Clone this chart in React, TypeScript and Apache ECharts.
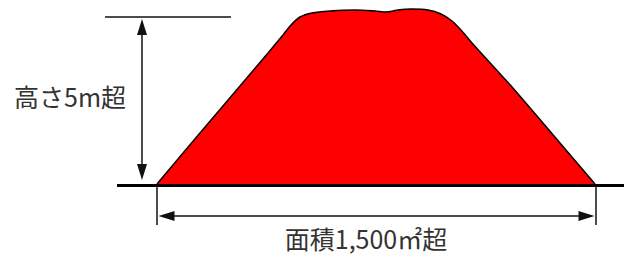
import React, { useEffect, useRef } from "react";
import * as echarts from "echarts";

// Outline of the heap (x, y in diagram units; y grows downward)
const outline: [number, number][] = [
  [157, 184], [200, 133], [240, 86], [268, 53], [283, 35], [291, 25], [300, 17],
  [312, 13], [330, 11], [355, 10], [375, 11], [386, 12], [398, 10], [412, 9],
  [428, 10], [441, 14], [452, 21], [461, 30], [472, 43], [512, 87], [554, 136],
  [595, 184],
];
const groundLevel = 184;

const groundLine: [number, number][] = [[117, 185], [624, 185]];
const heightRefLine: [number, number][] = [[105, 17], [231, 17]];
const leftTick: [number, number][] = [[156.5, 186], [156.5, 225]];
const rightTick: [number, number][] = [[596, 186], [596, 225]];
const heightArrow: [number, number][] = [[142, 27], [142, 172]];
const areaArrow: [number, number][] = [[166.5, 216], [586.5, 216]];

const heightLabel = "高さ5m超";
const areaLabel = "面積1,500㎡超";

const FONT = '"Noto Sans CJK JP", "Noto Sans", sans-serif';

export default function App() {
  const ref = useRef<HTMLDivElement>(null);
  useEffect(() => {
    if (!ref.current) return;
    const chart = echarts.init(ref.current, null, { renderer: "svg" });
    const seg = (pts: [number, number][], extra: any = {}) => [
      { coord: pts[0], ...extra },
      { coord: pts[1] },
    ];
    const arrowSeg = (pts: [number, number][]) => [
      { coord: pts[0], symbol: "triangle", symbolSize: [10, 16] },
      { coord: pts[1], symbol: "triangle", symbolSize: [10, 16] },
    ];
    chart.setOption({
      animation: false,
      grid: { left: 0, right: 0, top: 0, bottom: 0, containLabel: false },
      xAxis: { type: "value", min: 0, max: 624, show: false },
      yAxis: { type: "value", min: 0, max: 255, inverse: true, show: false },
      series: [
        {
          type: "line",
          data: outline,
          smooth: 0.3,
          symbol: "none",
          silent: true,
          z: 2,
          lineStyle: { color: "#000", width: 1.5 },
          areaStyle: { color: "#ff0000", opacity: 1, origin: groundLevel },
          markLine: {
            silent: true,
            symbol: "none",
            z: 5,
            label: { show: false },
            emphasis: { disabled: true },
            lineStyle: { color: "#111", width: 1.5, type: "solid" },
            data: [
              seg(groundLine, { lineStyle: { color: "#000", width: 3, type: "solid" } }),
              seg(heightRefLine),
              seg(leftTick),
              seg(rightTick),
            ],
          },
        },
        {
          type: "line",
          data: [],
          symbol: "none",
          silent: true,
          z: 5,
          markLine: {
            silent: true,
            symbol: ["triangle", "triangle"],
            symbolSize: 12,
            label: { show: false },
            emphasis: { disabled: true },
            lineStyle: { color: "#111", width: 1.5, type: "solid" },
            itemStyle: { color: "#000" },
            data: [arrowSeg(heightArrow), arrowSeg(areaArrow)],
          },
        },
      ],
      graphic: [
        {
          type: "text",
          x: 14,
          y: 96,
          silent: true,
          style: {
            text: heightLabel,
            fontSize: 25,
            lineHeight: 25,
            fontFamily: FONT,
            fill: "#333",
            align: "left",
            verticalAlign: "middle",
          },
        },
        {
          type: "text",
          x: 366,
          y: 238,
          silent: true,
          style: {
            text: areaLabel,
            fontSize: 25,
            lineHeight: 25,
            fontFamily: FONT,
            fill: "#333",
            align: "center",
            verticalAlign: "middle",
          },
        },
      ],
    });
    return () => chart.dispose();
  }, []);
  return (
    <div
      ref={ref}
      style={{ position: "absolute", left: 0, top: 0, width: 624, height: 255, background: "#fff" }}
    />
  );
}
